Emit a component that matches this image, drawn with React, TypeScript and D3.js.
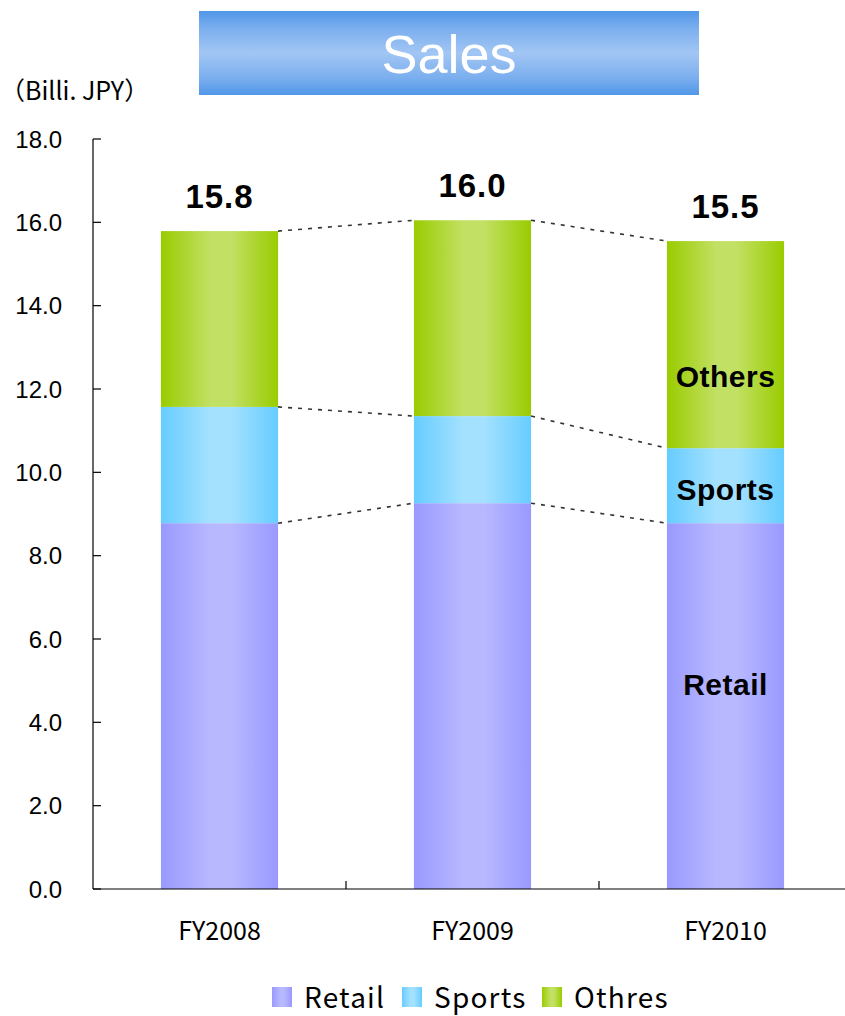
import React from "react";
import * as d3 from "d3";

const categories = ["FY2008", "FY2009", "FY2010"];
const retail = [8.78, 9.26, 8.78];
const sports = [2.79, 2.09, 1.8];
const others = [4.22, 4.7, 4.97];
const totalLabels = ["15.8", "16.0", "15.5"];
const yTicks = [0, 2, 4, 6, 8, 10, 12, 14, 16, 18];
const legendNames = ["Retail", "Sports", "Othres"];
const segmentLabels = [
  { text: "Others", value: 12.3 },
  { text: "Sports", value: 9.6 },
  { text: "Retail", value: 4.9 },
];

const W = 845;
const H = 1016;
const left = 93;
const right = 852;
const top = 139;
const bottom = 889;

const colors = [
  { id: "gRetail", edge: "#9999ff", mid: "#b8b8ff" },
  { id: "gSports", edge: "#66ccff", mid: "#a4e1ff" },
  { id: "gOthers", edge: "#99cc00", mid: "#c2e063" },
];

export default function App() {
  const x = d3.scaleBand<string>().domain(categories).range([left, right]).paddingInner(0).paddingOuter(0);
  const y = d3.scaleLinear().domain([0, 18]).range([bottom, top]);
  const barW = x.bandwidth() * 0.463;
  const series = [retail, sports, others];
  const stacked = categories.map((c, i) => {
    let acc = 0;
    return series.map((s) => {
      const y0 = acc;
      acc += s[i];
      return { y0, y1: acc };
    });
  });
  const barX = (c: string) => (x(c) as number) + (x.bandwidth() - barW) / 2;
  const tickFont = "'Liberation Sans', Arial, sans-serif";
  const jpFont = "'Noto Sans CJK JP', sans-serif";

  return (
    <svg width={W} height={H} style={{ position: "absolute", left: 0, top: 0 }}>
      <defs>
        {colors.map((c) => (
          <linearGradient key={c.id} id={c.id} x1="0" x2="1" y1="0" y2="0">
            <stop offset="0" stopColor={c.edge} />
            <stop offset="0.42" stopColor={c.mid} />
            <stop offset="0.6" stopColor={c.mid} />
            <stop offset="1" stopColor={c.edge} />
          </linearGradient>
        ))}
        <linearGradient id="gTitle" x1="0" x2="0" y1="0" y2="1">
          <stop offset="0" stopColor="#5197e8" />
          <stop offset="0.2" stopColor="#7aaeee" />
          <stop offset="0.5" stopColor="#a2c6f4" />
          <stop offset="0.8" stopColor="#7aaeee" />
          <stop offset="1" stopColor="#5197e8" />
        </linearGradient>
      </defs>
      <rect x={0} y={0} width={W} height={H} fill="#fff" />
      {/* title */}
      <rect x={199} y={11} width={500} height={84} fill="url(#gTitle)" />
      <text x={449} y={73} textAnchor="middle" fill="#fff" fontSize={54} fontFamily={tickFont}>
        Sales
      </text>
      {/* unit */}
      <text x={0} y={100} fontSize={25} fontFamily={jpFont} fill="#000">
        （Billi. JPY）
      </text>
      {/* bars */}
      {categories.map((c, i) =>
        stacked[i].map((s, j) => (
          <rect
            key={c + j}
            x={barX(c)}
            y={y(s.y1)}
            width={barW}
            height={y(s.y0) - y(s.y1)}
            fill={`url(#${colors[j].id})`}
          />
        ))
      )}
      {/* connector lines */}
      {categories.slice(0, -1).map((c, i) =>
        stacked[i].map((s, j) => (
          <line
            key={"l" + c + j}
            x1={barX(c) + barW}
            x2={barX(categories[i + 1])}
            y1={y(s.y1)}
            y2={y(stacked[i + 1][j].y1)}
            stroke="#333"
            strokeWidth={1.6}
            strokeDasharray="4 6"
          />
        ))
      )}
      {/* total labels */}
      {categories.map((c, i) => (
        <text
          key={"t" + c}
          x={(x(c) as number) + x.bandwidth() / 2}
          y={y(stacked[i][2].y1) - 23}
          textAnchor="middle"
          fontSize={33}
          fontWeight="bold"
          letterSpacing={1}
          fontFamily={tickFont}
          fill="#000"
        >
          {totalLabels[i]}
        </text>
      ))}
      {/* segment labels in last bar */}
      {segmentLabels.map((l) => (
        <text
          key={l.text}
          x={(x(categories[2]) as number) + x.bandwidth() / 2}
          y={y(l.value)}
          textAnchor="middle"
          dominantBaseline="central"
          fontSize={30}
          fontWeight="bold"
          letterSpacing={0.5}
          fontFamily={tickFont}
          fill="#000"
        >
          {l.text}
        </text>
      ))}
      {/* y axis */}
      <line x1={left} x2={left} y1={top} y2={bottom} stroke="#000" strokeWidth={1.2} />
      {yTicks.map((t) => (
        <g key={"y" + t}>
          <line x1={left} x2={left + 8} y1={y(t)} y2={y(t)} stroke="#000" strokeWidth={1.2} />
          <text
            x={62}
            y={y(t)}
            textAnchor="end"
            dominantBaseline="central"
            fontSize={24}
            fontFamily={tickFont}
            fill="#000"
          >
            {t.toFixed(1)}
          </text>
        </g>
      ))}
      {/* x axis */}
      <line x1={left} x2={right} y1={bottom} y2={bottom} stroke="#000" strokeWidth={1.2} />
      {categories.map((c) => (
        <g key={"x" + c}>
          <line
            x1={(x(c) as number) + x.bandwidth()}
            x2={(x(c) as number) + x.bandwidth()}
            y1={bottom}
            y2={bottom - 8}
            stroke="#000"
            strokeWidth={1.2}
          />
          <text
            x={(x(c) as number) + x.bandwidth() / 2}
            y={940}
            textAnchor="middle"
            fontSize={25}
            fontFamily={jpFont}
            fill="#000"
          >
            {c}
          </text>
        </g>
      ))}
      {/* legend */}
      {legendNames.map((n, i) => {
        const lx = [272, 402, 542][i];
        return (
          <g key={"lg" + n}>
            <rect x={lx} y={987} width={20} height={20} fill={`url(#${colors[i].id})`} />
            <text x={lx + 32} y={1008} fontSize={28} letterSpacing={1.2} fontFamily={jpFont} fill="#000">
              {n}
            </text>
          </g>
        );
      })}
    </svg>
  );
}
